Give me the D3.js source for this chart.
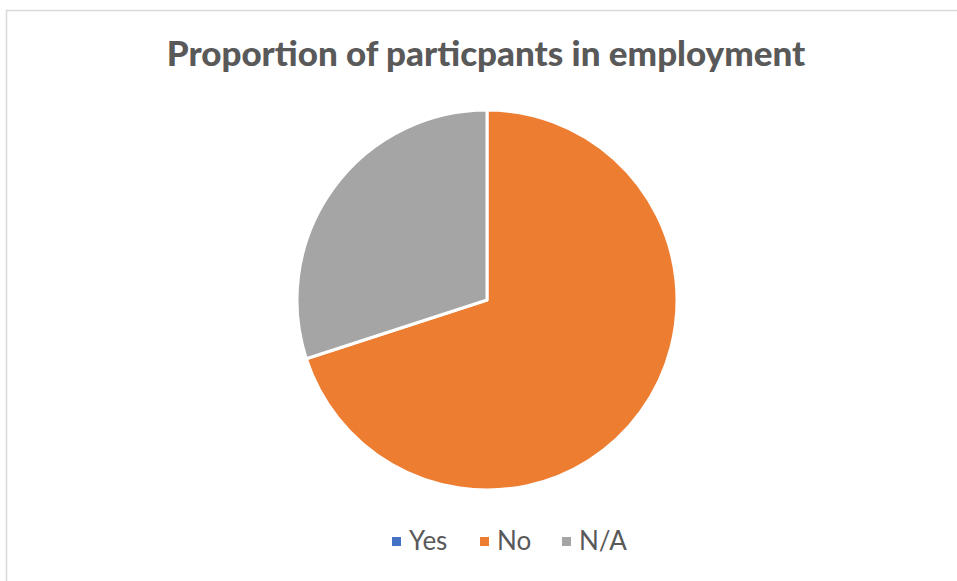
<!DOCTYPE html>
<html>
<head>
<meta charset="utf-8">
<script src="https://cdn.jsdelivr.net/npm/d3@7"></script>
<style>
  html, body { margin: 0; padding: 0; background: #fff; }
  svg { display: block; }
</style>
</head>
<body>
<svg id="chart" width="957" height="581"></svg>
<script>
// Employment status of participants
const categories = ["Yes", "No", "N/A"];
const counts = [0, 7, 3];
const colors = ["#4472c4", "#ed7d31", "#a5a5a5"];
const title = "Proportion of particpants in employment";

const svg = d3.select("#chart");
const W = 957, H = 581;

// chart frame
svg.append("rect")
  .attr("x", 6.5).attr("y", 10.5)
  .attr("width", W + 10).attr("height", H + 10)
  .attr("fill", "#fff")
  .attr("stroke", "#d9d9d9").attr("stroke-width", 1.5);

// title
svg.append("text")
  .attr("x", 486).attr("y", 66)
  .attr("text-anchor", "middle")
  .attr("font-family", "Lato, 'Open Sans', sans-serif")
  .attr("font-weight", 900)
  .attr("font-size", 35)
  .attr("fill", "#595959")
  .text(title);

// pie
const cx = 487, cy = 300, r = 190;
const data = categories.map((c, i) => ({ cat: c, value: counts[i], color: colors[i] }));
const pie = d3.pie().value(d => d.value).sort(null);
const arc = d3.arc().innerRadius(0).outerRadius(r);

svg.append("g")
  .attr("transform", `translate(${cx},${cy})`)
  .selectAll("path")
  .data(pie(data))
  .join("path")
  .attr("d", arc)
  .attr("fill", d => d.data.color)
  .attr("stroke", "#fff")
  .attr("stroke-width", d => d.data.value > 0 ? 3 : 0)
  .attr("stroke-linejoin", "round");

// legend
const legendX = [392, 480, 562];
const legend = svg.append("g");
const items = legend.selectAll("g")
  .data(data)
  .join("g")
  .attr("transform", (d, i) => `translate(${legendX[i]},0)`);
items.append("rect")
  .attr("x", 0).attr("y", 537)
  .attr("width", 9).attr("height", 9)
  .attr("fill", d => d.color);
items.append("text")
  .attr("x", 17).attr("y", 550)
  .attr("font-family", "Lato, 'Open Sans', sans-serif")
  .attr("font-size", 26)
  .attr("fill", "#595959")
  .text(d => d.cat);
</script>
</body>
</html>
